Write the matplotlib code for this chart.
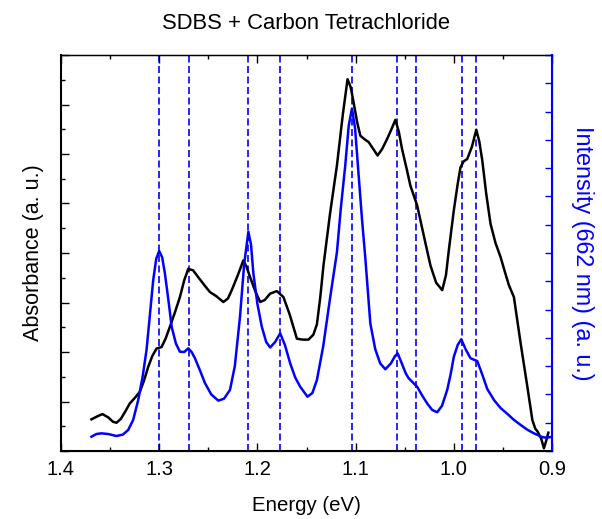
import matplotlib.pyplot as plt
from matplotlib.ticker import MultipleLocator, NullFormatter

# absorbance spectrum (black, left axis)
abs_energy = [1.369, 1.363, 1.3578, 1.352, 1.347, 1.3435, 1.339, 1.3345, 1.3299, 1.3245,
              1.3197, 1.3155, 1.3112, 1.307, 1.3027, 1.2976, 1.2935, 1.2891, 1.2840, 1.2789,
              1.2745, 1.2704, 1.2655, 1.2602, 1.2540, 1.2483, 1.2420, 1.2347, 1.2300, 1.2261,
              1.2200, 1.2143, 1.2110, 1.2074, 1.2020, 1.1972, 1.1925, 1.1870, 1.1802, 1.1735,
              1.1670, 1.1598, 1.1540, 1.1480, 1.1430, 1.1394, 1.1360, 1.1327, 1.1260, 1.1190,
              1.1130, 1.1082, 1.1050, 1.1020, 1.0985, 1.0952, 1.0910, 1.0867, 1.0820, 1.0776,
              1.0730, 1.0680, 1.0635, 1.0595, 1.0560, 1.0527, 1.0480, 1.0442, 1.0373, 1.0300,
              1.0238, 1.0180, 1.0118, 1.0080, 1.0051, 1.0000, 0.9960, 0.9932, 0.9900, 0.9863,
              0.9815, 0.9771, 0.9740, 0.9710, 0.9670, 0.9626, 0.9575, 0.9524, 0.9480, 0.9439,
              0.9388, 0.9319, 0.9251, 0.9200, 0.9170, 0.9149, 0.9110, 0.9082, 0.9060, 0.9037]
absorbance = [0.064, 0.070, 0.0746, 0.068, 0.059, 0.0571, 0.065, 0.080, 0.0962, 0.108,
              0.1196, 0.142, 0.170, 0.192, 0.207, 0.210, 0.227, 0.251, 0.280, 0.311,
              0.345, 0.368, 0.365, 0.351, 0.335, 0.321, 0.313, 0.301, 0.308, 0.325,
              0.355, 0.385, 0.372, 0.351, 0.322, 0.301, 0.305, 0.318, 0.323, 0.311,
              0.275, 0.227, 0.225, 0.225, 0.235, 0.256, 0.310, 0.375, 0.480, 0.577,
              0.680, 0.751, 0.735, 0.704, 0.665, 0.637, 0.630, 0.624, 0.610, 0.597,
              0.610, 0.630, 0.650, 0.669, 0.645, 0.610, 0.570, 0.536, 0.496, 0.430,
              0.375, 0.340, 0.325, 0.355, 0.405, 0.486, 0.540, 0.573, 0.585, 0.590,
              0.615, 0.649, 0.625, 0.587, 0.520, 0.459, 0.420, 0.392, 0.362, 0.335,
              0.311, 0.217, 0.130, 0.0625, 0.045, 0.040, 0.025, 0.0054, 0.020, 0.037]

# PLE intensity at 662 nm (blue, right axis)
ple_energy = [1.369, 1.364, 1.3588, 1.352, 1.3435, 1.337, 1.3316, 1.3265, 1.3214, 1.317,
              1.3129, 1.3061, 1.3030, 1.300, 1.297, 1.2942, 1.2905, 1.2873, 1.2830, 1.2789,
              1.2745, 1.2704, 1.2670, 1.2636, 1.2585, 1.2534, 1.2470, 1.2398, 1.2340, 1.2279,
              1.2230, 1.2177, 1.2135, 1.2092, 1.2065, 1.2041, 1.2000, 1.1955, 1.1910, 1.1870,
              1.1820, 1.1768, 1.1720, 1.1666, 1.1615, 1.1564, 1.1490, 1.1440, 1.1394, 1.1330,
              1.1258, 1.1190, 1.1150, 1.1105, 1.1070, 1.1037, 1.1005, 1.0969, 1.0935, 1.0901,
              1.0850, 1.0800, 1.0750, 1.0697, 1.0640, 1.0600, 1.0571, 1.0530, 1.0490, 1.0459,
              1.0373, 1.0320, 1.0271, 1.0220, 1.0169, 1.0120, 1.0067, 1.0030, 1.0000, 0.9960,
              0.9924, 0.9880, 0.9830, 0.9790, 0.9761, 0.9710, 0.9659, 0.9590, 0.9524, 0.9450,
              0.9388, 0.9319, 0.9250, 0.9184, 0.9098, 0.9050, 0.900]
intensity = [0.505, 0.60, 0.625, 0.60, 0.53, 0.58, 0.742, 1.10, 1.80, 2.60,
             3.57, 6.04, 6.80, 7.07, 6.85, 6.28, 5.30, 4.39, 3.80, 3.51,
             3.50, 3.63, 3.50, 3.28, 2.85, 2.40, 2.00, 1.78, 1.85, 2.16,
             3.00, 4.75, 6.60, 7.75, 7.30, 6.28, 5.20, 4.39, 3.85, 3.66,
             3.85, 4.16, 3.75, 3.10, 2.60, 2.27, 1.92, 2.05, 2.51, 3.70,
             5.45, 7.03, 8.60, 10.11, 11.50, 12.11, 11.40, 9.75, 8.20, 6.82,
             4.51, 3.60, 3.10, 2.89, 3.10, 3.35, 3.45, 3.10, 2.75, 2.57,
             2.27, 1.95, 1.68, 1.45, 1.37, 1.60, 2.16, 2.75, 3.33, 3.75,
             3.95, 3.60, 3.28, 3.22, 3.18, 2.70, 2.19, 1.80, 1.52, 1.30,
             1.10, 0.92, 0.75, 0.625, 0.49, 0.47, 0.505]

# peak markers
peak_lines = [1.300, 1.2694, 1.2092, 1.1768, 1.1037, 1.0574, 1.0384, 0.9921, 0.9771]

blue = '#0000ff'
plt.rcParams['font.family'] = ['Liberation Sans', 'DejaVu Sans']

fig = plt.figure(figsize=(6.02, 5.19), dpi=100)
ax = fig.add_axes([61 / 602, 68 / 519, 491 / 602, 396 / 519])
ax2 = ax.twinx()

for e in peak_lines:
    ax.axvline(e, color=blue, lw=1.2, linestyle=(0, (4.2, 2.1)), zorder=1)

ax.plot(abs_energy, absorbance, color='black', lw=1.8, zorder=3)
ax2.plot(ple_energy, intensity, color=blue, lw=1.8, zorder=3)

ax.set_xlim(1.4, 0.9)
ax.set_ylim(0, 0.8)
ax2.set_ylim(0, 14)

ax.xaxis.set_minor_locator(MultipleLocator(0.05))
ax.yaxis.set_major_locator(MultipleLocator(0.1))
ax.yaxis.set_minor_locator(MultipleLocator(0.05))
ax.yaxis.set_major_formatter(NullFormatter())
ax2.yaxis.set_major_locator(MultipleLocator(1))
ax2.yaxis.set_major_formatter(NullFormatter())
ax.set_xticks([1.4, 1.3, 1.2, 1.1, 1.0, 0.9])
ax.set_xticklabels(['1.4', '1.3', '1.2', '1.1', '1.0', '0.9'])

ax.tick_params(axis='x', which='both', direction='in', top=True, labelsize=14.5, pad=6.5)
ax.tick_params(axis='y', which='both', direction='in', right=False)
ax.tick_params(which='major', length=6, width=1)
ax.tick_params(which='minor', length=3, width=1)
ax2.tick_params(axis='y', direction='in', length=5, width=1, color=blue)

for s in ['left', 'bottom']:
    ax.spines[s].set_linewidth(1.5)
ax.spines['top'].set_linewidth(1.0)
ax2.spines['right'].set_color(blue)
ax2.spines['right'].set_linewidth(1.5)
ax2.spines['left'].set_visible(False)

ax.set_xlabel('Energy (eV)', fontsize=14.7, labelpad=12)
ax.set_ylabel('Absorbance (a. u.)', fontsize=15.5, labelpad=9)
ax2.set_ylabel('Intensity (662 nm) (a. u.)', fontsize=16.8, color=blue,
               rotation=270, labelpad=27)
ax.set_title('SDBS + Carbon Tetrachloride', fontsize=15.8, pad=19)

fig.savefig('out.png', dpi=100)
